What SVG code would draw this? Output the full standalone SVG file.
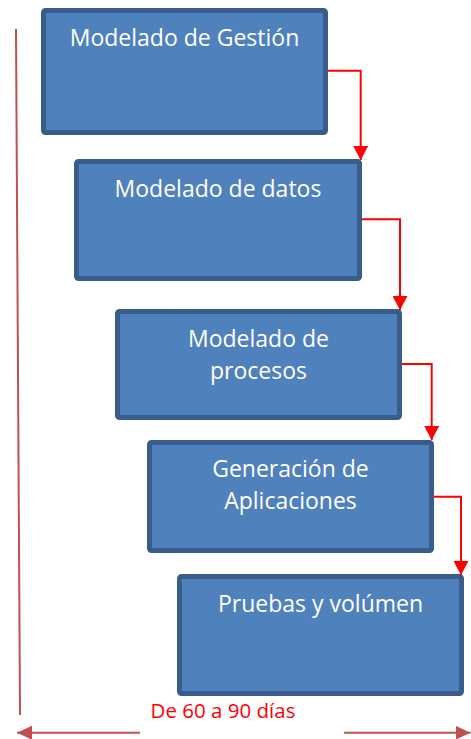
<svg xmlns="http://www.w3.org/2000/svg" width="471" height="739" viewBox="0 0 471 739">
<style>
.box{fill:#4F81BD;stroke:#385D8A;stroke-width:5}
.lbl{font-family:"Open Sans","Liberation Sans",sans-serif;font-size:23px;fill:#FFFFFF;text-anchor:middle}
.flow{fill:none;stroke:#FF0000;stroke-width:2}
.span{fill:none;stroke:#C0504D;stroke-width:2}
</style>
<defs>
<marker id="redArrow" viewBox="0 0 14 15" refX="14" refY="7.5" markerWidth="14" markerHeight="15" markerUnits="userSpaceOnUse" orient="auto">
<path d="M0,0 L14,7.5 L0,15 Z" fill="#FF0000"/>
</marker>
<marker id="spanArrow" viewBox="0 0 15 14" refX="15" refY="7" markerWidth="15" markerHeight="14" markerUnits="userSpaceOnUse" orient="auto">
<path d="M0,0 L15,7 L0,14 Z" fill="#C0504D"/>
</marker>
</defs>
<g id="timeline">
<path class="span" d="M16,29 L20,715"/>
<path class="span" d="M140,732.7 H17" marker-end="url(#spanArrow)"/>
<path class="span" d="M344,732.7 H470.5" marker-end="url(#spanArrow)"/>
<text x="223" y="718" font-family="'Open Sans','Liberation Sans',sans-serif" font-size="20.5" fill="#FF0000" text-anchor="middle">De 60 a 90 días</text>
</g>
<g id="n1">
<rect class="box" x="43.5" y="10.5" width="282" height="122" rx="2"/>
<text class="lbl" x="184.5" y="46">Modelado de Gestión</text>
</g>
<g id="n2">
<rect class="box" x="76.5" y="161.5" width="283" height="117" rx="2"/>
<text class="lbl" x="218" y="197">Modelado de datos</text>
</g>
<g id="n3">
<rect class="box" x="117.5" y="311.5" width="282" height="106" rx="2"/>
<text class="lbl" x="258.5" y="347">Modelado de</text>
<text class="lbl" x="258.5" y="379">procesos</text>
</g>
<g id="n4">
<rect class="box" x="149.5" y="442.5" width="282" height="108" rx="2"/>
<text class="lbl" x="290.5" y="477">Generación de</text>
<text class="lbl" x="290.5" y="509">Aplicaciones</text>
</g>
<g id="n5">
<rect class="box" x="179.5" y="576.5" width="282" height="117" rx="2"/>
<text class="lbl" x="320.5" y="612">Pruebas y volúmen</text>
</g>
<g id="connectors">
<path class="flow" d="M328,70.7 H360.7 V160" marker-end="url(#redArrow)"/>
<path class="flow" d="M362,219.3 H400 V310" marker-end="url(#redArrow)"/>
<path class="flow" d="M402,364 H431.7 V440" marker-end="url(#redArrow)"/>
<path class="flow" d="M434,496.7 H461 V575" marker-end="url(#redArrow)"/>
</g>
</svg>
